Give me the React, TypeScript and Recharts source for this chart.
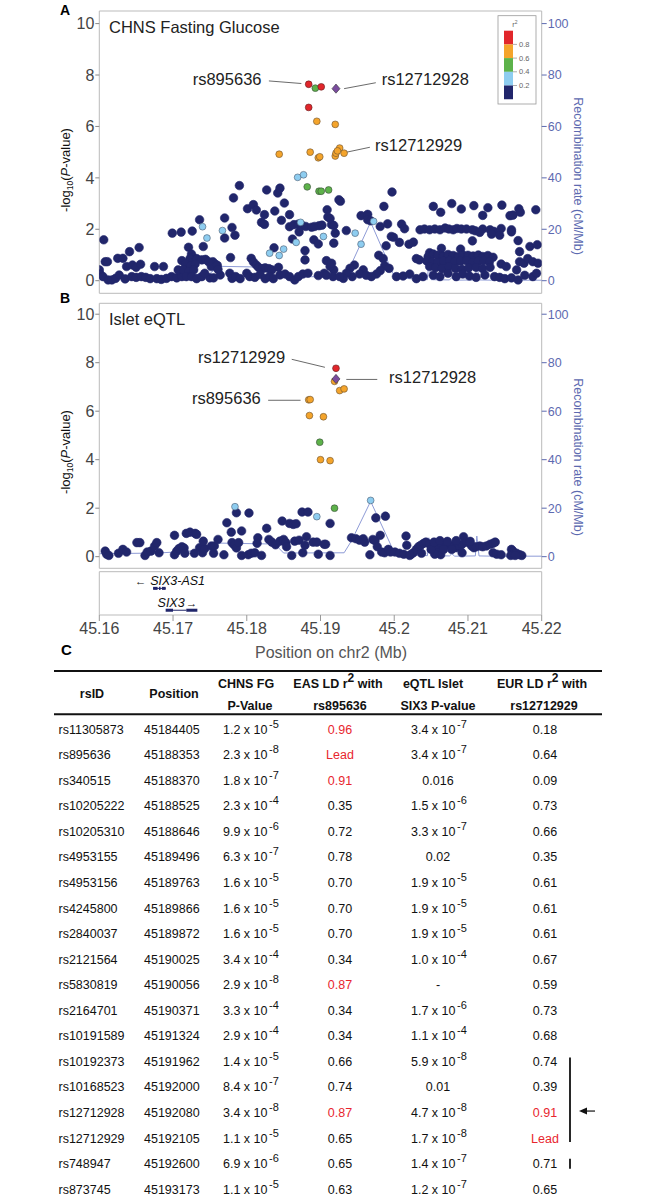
import React from 'react'
import {
	ComposedChart,
	Line,
	ReferenceArea,
	ReferenceLine,
	Scatter,
	XAxis,
	YAxis,
} from 'recharts'

type P = [number, number]

const X_TICKS = [45.16, 45.17, 45.18, 45.19, 45.2, 45.21, 45.22]
const P_TICKS = [0, 2, 4, 6, 8, 10]
const R_TICKS = [0, 20, 40, 60, 80, 100]

// recombination rate (cM/Mb) along chr2
const recomb: P[] = [
	[45.16, 1.2], [45.168, 1.5], [45.175, 2.8], [45.1762, 5.6], [45.1838, 5.2], [45.185, 1.5],
	[45.1932, 1.6], [45.1942, 6.5], [45.1968, 22.8], [45.2, 1.8], [45.202, 0.8], [45.2045, 0.4],
	[45.2047, 7.8], [45.205, 0.4], [45.2075, 0.3], [45.2078, 1.2], [45.2082, 0.2], [45.211, 0.3],
	[45.2112, 8.5], [45.2115, 0.3], [45.2135, 0.2], [45.22, 0.2],
]

// panel A: CHNS fasting glucose, -log10 P by LD bin
const fgNavy: P[] = [
	[45.1606, 1.59], [45.1608, 0.74], [45.1611, 0.74], [45.16, 0.42], [45.1601, 0.26], [45.1605, 0.16],
	[45.1612, 0.03], [45.1617, 0.03], [45.1622, 0.09], [45.1625, 0.87], [45.1632, 0.87], [45.1641, 1.13],
	[45.1654, 1.29], [45.1637, 0.55], [45.1645, 0.61], [45.165, 0.52], [45.1656, 0.64], [45.1627, 0.22],
	[45.1635, 0.07], [45.1644, 0.16], [45.165, 0.13], [45.1657, 0.16], [45.1663, 0.13], [45.1669, 0.08],
	[45.1675, 0.55], [45.1687, 0.55], [45.1678, 0.08], [45.1684, 0.05], [45.1691, 0.09], [45.1698, 0.16],
	[45.1705, 0.11], [45.1712, 0.16], [45.1699, 1.85], [45.1711, 1.89], [45.1726, 1.93], [45.1736, 2.37],
	[45.1741, 1.33], [45.1721, 1.3], [45.1725, 1.04], [45.1727, 0.91], [45.1723, 0.86], [45.1732, 0.86],
	[45.1739, 0.81], [45.1744, 0.83], [45.1712, 0.78], [45.1717, 0.65], [45.1724, 0.57], [45.173, 0.65],
	[45.1707, 0.42], [45.1714, 0.42], [45.1721, 0.35], [45.1728, 0.42], [45.1718, 0.16], [45.1725, 0.16],
	[45.1732, 0.08], [45.1739, 0.16], [45.175, 0.11], [45.1754, 0.74], [45.1757, 0.65], [45.1752, 0.55],
	[45.176, 0.6], [45.1764, 0.22], [45.177, 2.44], [45.177, 1.66], [45.178, 2.07], [45.1784, 1.77],
	[45.1778, 0.9], [45.1782, 3.22], [45.179, 3.7], [45.1801, 2.8], [45.1809, 2.96], [45.1813, 2.75],
	[45.182, 2.27], [45.1824, 2.19], [45.1824, 2.57], [45.1827, 3.53], [45.1838, 2.71], [45.1842, 3.41],
	[45.1845, 3.6], [45.1851, 3.02], [45.1847, 2.35], [45.1858, 2.57], [45.1858, 2.1], [45.1864, 2.18],
	[45.187, 2.2], [45.1875, 2.15], [45.188, 2.11], [45.1871, 1.9], [45.1862, 1.62], [45.1888, 2.08],
	[45.1892, 2.11], [45.1898, 2.14], [45.1902, 2.16], [45.1891, 1.59], [45.1897, 1.43], [45.1879, 1.17],
	[45.1879, 0.81], [45.1837, 1.28], [45.1806, 0.87], [45.1809, 0.73], [45.1813, 0.61], [45.1816, 0.52],
	[45.1821, 0.47], [45.1825, 0.5], [45.183, 0.47], [45.1834, 0.42], [45.1843, 0.52], [45.1777, 0.29],
	[45.178, 0.09], [45.1785, 0.16], [45.1791, 0.08], [45.18, 0.29], [45.1804, 0.16], [45.1811, 0.13],
	[45.1818, 0.24], [45.1825, 0.08], [45.1831, 0.16], [45.1836, 0.08], [45.1845, 0.22], [45.1852, 0.26],
	[45.1858, 0.16], [45.1865, 0.03], [45.187, 0.16], [45.1876, 0.26], [45.1883, 0.29], [45.1897, 0.2],
	[45.1905, 0.29], [45.1755, 0.11], [45.1743, 0.29], [45.1761, 0.44], [45.1748, 0.74],
	[45.1925, 3.15], [45.1927, 3.09], [45.1997, 3.45], [45.1986, 2.89], [45.1909, 2.76], [45.191, 2.48],
	[45.1913, 2.42], [45.1915, 2.18], [45.1918, 2.15], [45.192, 1.85], [45.1918, 1.46], [45.1935, 1.95],
	[45.1955, 2.53], [45.1964, 2.58], [45.1964, 2.37], [45.1968, 2.33], [45.1981, 2.11], [45.1991, 2.21],
	[45.1996, 1.72], [45.1999, 1.69], [45.2007, 1.49], [45.201, 2.2], [45.2014, 2.02], [45.1989, 1.36],
	[45.1979, 0.99], [45.1985, 0.86], [45.1987, 0.58], [45.1993, 0.48], [45.1981, 0.39], [45.1976, 0.26],
	[45.1958, 0.42], [45.1953, 0.26], [45.1962, 0.21], [45.1969, 0.16], [45.1946, 0.61], [45.194, 0.48],
	[45.1943, 0.16], [45.1935, 0.29], [45.1931, 0.09], [45.1918, 0.42], [45.1913, 0.55], [45.1908, 0.78],
	[45.1915, 0.68], [45.1908, 0.21], [45.1917, 0.16], [45.1926, 0.16], [45.2003, 0.16], [45.2012, 0.18],
	[45.2021, 0.26], [45.203, 0.08], [45.2039, 0.16], [45.202, 1.42], [45.2026, 1.5], [45.203, 0.86],
	[45.2034, 0.81], [45.2035, 1.98], [45.2041, 2.01], [45.2048, 1.98], [45.2055, 2.01], [45.2062, 1.98],
	[45.2069, 2.05], [45.2074, 2.01], [45.208, 1.98], [45.2085, 2.03], [45.2091, 2.01], [45.2098, 2.01],
	[45.2106, 1.98], [45.211, 1.94], [45.212, 2.01], [45.213, 1.98], [45.2135, 1.92], [45.2145, 2.03],
	[45.2159, 1.98], [45.2053, 2.89], [45.2063, 2.66], [45.2078, 3.0], [45.2091, 2.79], [45.2108, 2.92],
	[45.212, 2.54], [45.2127, 2.84], [45.2146, 2.94], [45.2157, 2.53], [45.2161, 2.55], [45.2169, 2.8],
	[45.2171, 2.66], [45.2192, 2.76], [45.2116, 1.88], [45.2132, 1.81], [45.2106, 1.55], [45.2143, 1.77],
	[45.2159, 1.9], [45.2168, 1.56], [45.2184, 1.33], [45.2194, 1.4], [45.217, 1.13], [45.209, 1.23],
	[45.2064, 1.26], [45.2048, 1.09], [45.2046, 0.94], [45.2053, 1.04], [45.2059, 0.99], [45.2066, 0.96],
	[45.2073, 1.02], [45.208, 0.98], [45.2087, 0.94], [45.2093, 1.0], [45.21, 0.99], [45.2107, 0.96],
	[45.2114, 1.0], [45.212, 0.94], [45.2127, 0.98], [45.2134, 0.91], [45.2044, 0.77], [45.2052, 0.73],
	[45.2059, 0.7], [45.2067, 0.76], [45.2075, 0.78], [45.2082, 0.73], [45.209, 0.76], [45.2098, 0.78],
	[45.2106, 0.7], [45.2114, 0.76], [45.2121, 0.78], [45.2129, 0.73], [45.2048, 0.55], [45.2056, 0.51],
	[45.2065, 0.47], [45.2074, 0.55], [45.2083, 0.48], [45.2092, 0.44], [45.2101, 0.5], [45.2111, 0.52],
	[45.212, 0.47], [45.213, 0.52], [45.2053, 0.21], [45.2062, 0.16], [45.2073, 0.29], [45.2084, 0.16],
	[45.2093, 0.26], [45.2102, 0.18], [45.2111, 0.13], [45.2123, 0.22], [45.2136, 0.16], [45.2143, 0.13],
	[45.215, 0.08], [45.2159, 0.11], [45.2168, 0.03], [45.2177, 0.21], [45.2188, 0.16], [45.217, 0.74],
	[45.2176, 0.68], [45.2181, 0.86], [45.2188, 0.74], [45.2195, 0.68], [45.2145, 0.65], [45.2152, 0.55],
	[45.2166, 0.42], [45.2193, 0.29],
]
const fgBlue: P[] = [
	[45.1869, 4.02], [45.1877, 4.12], [45.174, 2.1], [45.1746, 1.66], [45.1767, 1.95], [45.1873, 2.27],
	[45.1867, 1.49], [45.1904, 1.72], [45.185, 1.23], [45.1831, 1.07], [45.1844, 0.98], [45.1947, 1.85],
	[45.1955, 1.42], [45.1972, 2.31],
]
const fgGreen: P[] = [[45.1893, 7.49], [45.1882, 3.65], [45.1898, 3.48], [45.1901, 3.48], [45.1911, 3.53]]
const fgOrange: P[] = [
	[45.1844, 4.92], [45.1886, 5.0], [45.1895, 6.2], [45.1897, 4.78], [45.1899, 4.82], [45.192, 6.08],
	[45.192, 4.85], [45.1921, 4.96], [45.1926, 5.16], [45.1932, 4.96], [45.1923, 5.05],
]
const fgRed: P[] = [[45.1884, 7.64], [45.1901, 7.54], [45.1884, 6.74]]
const fgLead: P[] = [[45.1921, 7.47]]

// panel B: islet eQTL for SIX3
const eqNavy: P[] = [
	[45.1608, 0.23], [45.161, 0.1], [45.1613, 0.05], [45.1626, 0.14], [45.1632, 0.3], [45.1637, 0.19],
	[45.1651, 0.58], [45.1655, 0.58], [45.1662, 0.05], [45.1665, 0.19], [45.167, 0.23], [45.1675, 0.44],
	[45.1678, 0.58], [45.1681, 0.16], [45.1702, 0.88], [45.1702, 0.08], [45.1705, 0.23], [45.1708, 0.33],
	[45.1712, 0.41], [45.1715, 0.36], [45.1716, 0.14], [45.1718, 0.96], [45.1723, 1.01], [45.173, 0.96],
	[45.1732, 0.92], [45.1729, 0.14], [45.1736, 0.37], [45.174, 0.16], [45.1743, 0.33], [45.1741, 0.64],
	[45.1752, 0.44], [45.1756, 0.44], [45.1755, 0.14], [45.1761, 0.71], [45.1769, 0.08], [45.1773, 1.4],
	[45.1779, 1.01], [45.178, 0.58], [45.1783, 0.48], [45.1786, 0.36], [45.1789, 0.58], [45.1786, 1.81],
	[45.1793, 1.06], [45.1793, 0.05], [45.1803, 1.8], [45.1802, 0.08], [45.1806, 0.14], [45.1811, 0.16],
	[45.182, 0.05], [45.1815, 0.78], [45.1814, 0.55], [45.1827, 1.17], [45.183, 0.71], [45.1834, 0.6],
	[45.1839, 0.49], [45.1845, 0.64], [45.185, 0.71], [45.1853, 0.58], [45.1854, 0.41], [45.1848, 1.47],
	[45.1858, 1.37], [45.1863, 1.33], [45.1867, 1.36], [45.1861, 0.05], [45.1865, 0.64], [45.1871, 0.68],
	[45.1875, 1.84], [45.1883, 1.84], [45.1881, 0.82], [45.1879, 0.47], [45.1876, 0.16], [45.189, 0.6],
	[45.1895, 0.6], [45.1897, 0.1], [45.1905, 0.51],
	[45.1913, 1.37], [45.1907, 0.51], [45.1913, 0.05], [45.1942, 0.78], [45.1948, 0.74], [45.1953, 0.68],
	[45.1958, 0.74], [45.196, 0.6], [45.1971, 0.71], [45.1974, 0.66], [45.1975, 1.6], [45.1988, 1.67],
	[45.1981, 0.88], [45.1977, 0.41], [45.1983, 0.19], [45.1987, 0.16], [45.1992, 0.3], [45.1995, 0.19],
	[45.2001, 0.19], [45.1967, 0.08], [45.2007, 0.14], [45.2013, 0.1], [45.2016, 0.85], [45.2017, 0.47],
	[45.2023, 0.1], [45.2026, 0.16], [45.203, 0.3], [45.2033, 0.41], [45.2036, 0.47], [45.2037, 0.14],
	[45.204, 0.55], [45.2043, 0.6], [45.2048, 0.51], [45.2053, 0.47], [45.2057, 0.37], [45.2059, 0.16],
	[45.2063, 0.08], [45.2055, 0.1], [45.205, 0.3], [45.2064, 0.51], [45.207, 0.55], [45.2075, 0.47],
	[45.208, 0.44], [45.2084, 0.37], [45.2089, 0.44], [45.2092, 0.51], [45.2094, 0.82], [45.2098, 0.6],
	[45.2102, 0.58], [45.2105, 0.44], [45.2108, 0.37], [45.2111, 0.41], [45.2116, 0.44], [45.212, 0.41],
	[45.2125, 0.44], [45.213, 0.51], [45.2134, 0.55], [45.2137, 0.6], [45.2134, 0.16], [45.2139, 0.1],
	[45.2145, 0.08], [45.2092, 0.16], [45.2159, 0.3], [45.2161, 0.23], [45.2166, 0.14], [45.217, 0.08],
	[45.2173, 0.05], [45.2158, 0.05], [45.2164, 0.05], [45.2054, 0.6], [45.2062, 0.66], [45.2072, 0.63],
	[45.2084, 0.66], [45.2103, 0.63], [45.2021, 0.05], [45.2078, 0.3], [45.2067, 0.3],
]
const eqBlue: P[] = [[45.1784, 2.06], [45.1895, 1.65], [45.1968, 2.32]]
const eqGreen: P[] = [[45.1899, 4.72], [45.1919, 2.0]]
const eqOrange: P[] = [
	[45.1919, 7.23], [45.1926, 6.85], [45.1932, 6.92], [45.1884, 6.47], [45.1886, 6.48], [45.1885, 5.82],
	[45.1904, 5.77], [45.19, 4.0], [45.1913, 3.96],
]
const eqRed: P[] = [[45.1921, 7.77]]
const eqLead: P[] = [[45.1921, 7.33]]

// annotated SNPs: label anchor point and leader line, data units
const fgLabels = [
	{ x: 45.182, y: 7.84, t: 'rs895636', a: 'end' },
	{ x: 45.1983, y: 7.84, t: 'rs12712928', a: 'start' },
	{ x: 45.1974, y: 5.29, t: 'rs12712929', a: 'start' },
]
const fgLeaders: [P, P][] = [
	[[45.183, 7.77], [45.1874, 7.67]],
	[[45.1932, 7.47], [45.1975, 7.7]],
	[[45.1929, 4.96], [45.1967, 5.19]],
]
const eqLabels = [
	{ x: 45.1852, y: 8.24, t: 'rs12712929', a: 'end' },
	{ x: 45.1993, y: 7.41, t: 'rs12712928', a: 'start' },
	{ x: 45.1819, y: 6.53, t: 'rs895636', a: 'end' },
]
const eqLeaders: [P, P][] = [
	[[45.1861, 8.14], [45.1906, 7.81]],
	[[45.1935, 7.31], [45.1977, 7.31]],
	[[45.1829, 6.45], [45.1873, 6.45]],
]

// gene track (exons in Mb)
const six3As1Exons: P[] = [[45.1673, 45.1679], [45.1681, 45.1683], [45.1685, 45.169]]
const six3Exons: P[] = [[45.169, 45.17], [45.1718, 45.1733]]
const geneLabels = [
	{ x: 45.1656, y: 7.92, t: '←', a: 'middle' },
	{ x: 45.1669, y: 7.92, t: 'SIX3-AS1', a: 'start' },
	{ x: 45.1679, y: 2.84, t: 'SIX3', a: 'start' },
	{ x: 45.1725, y: 2.84, t: '→', a: 'middle' },
]

// table C
const rsIds = [
	'rs11305873', 'rs895636', 'rs340515', 'rs10205222', 'rs10205310', 'rs4953155', 'rs4953156', 'rs4245800',
	'rs2840037', 'rs2121564', 'rs5830819', 'rs2164701', 'rs10191589', 'rs10192373', 'rs10168523',
	'rs12712928', 'rs12712929', 'rs748947', 'rs873745',
]
const positions = [
	'45184405', '45188353', '45188370', '45188525', '45188646', '45189496', '45189763', '45189866',
	'45189872', '45190025', '45190056', '45190371', '45191324', '45191962', '45192000', '45192080',
	'45192105', '45192600', '45193173',
]
const fgP = [
	'1.2e-5', '2.3e-8', '1.8e-7', '2.3e-4', '9.9e-6', '6.3e-7', '1.6e-5', '1.6e-5', '1.6e-5', '3.4e-4',
	'2.9e-8', '3.3e-4', '2.9e-4', '1.4e-5', '8.4e-7', '3.4e-8', '1.1e-5', '6.9e-6', '1.1e-5',
]
const easLd = [
	'0.96', 'Lead', '0.91', '0.35', '0.72', '0.78', '0.70', '0.70', '0.70', '0.34', '0.87', '0.34', '0.34',
	'0.66', '0.74', '0.87', '0.65', '0.65', '0.63',
]
const easRed = [0, 1, 2, 10, 15]
const eqtlP = [
	'3.4e-7', '3.4e-7', '0.016', '1.5e-6', '3.3e-7', '0.02', '1.9e-5', '1.9e-5', '1.9e-5', '1.0e-4', '-',
	'1.7e-6', '1.1e-4', '5.9e-8', '0.01', '4.7e-8', '1.7e-8', '1.4e-7', '1.2e-7',
]
const eurLd = [
	'0.18', '0.64', '0.09', '0.73', '0.66', '0.35', '0.61', '0.61', '0.61', '0.67', '0.59', '0.73', '0.68',
	'0.74', '0.39', '0.91', 'Lead', '0.71', '0.65',
]
const eurRed = [15, 16]

const NAVY = '#21266b'
const BLUE = '#8ecdf0'
const GREEN = '#5db24a'
const ORANGE = '#f4a42b'
const RED = '#e1262b'
const PURPLE = '#7a4c9e'
const RECOMB = '#8e9bd6'
const AXIS_BLUE = '#5d6ab0'
const TXT_RED = '#e8262e'
const FONT = "'Liberation Sans', Arial, sans-serif"

const pts = (a: P[]) => a.map(([x, y]) => ({ x, y }))
const recombData = recomb.map(([x, r]) => ({ x, r }))

const dot = (fill: string, r: number, stroke: string) => (p: any) =>
	p.cx == null ? <g /> : <circle cx={p.cx} cy={p.cy} fill={fill} r={r} stroke={stroke} strokeWidth={0.6} />

const diamond = (p: any) =>
	p.cx == null ? (
		<g />
	) : (
		<polygon
			fill={PURPLE}
			points={`${p.cx},${p.cy - 4.6} ${p.cx + 4},${p.cy} ${p.cx},${p.cy + 4.6} ${p.cx - 4},${p.cy}`}
			stroke="#333"
			strokeWidth={0.6}
		/>
	)

const snpText = (p: any) => (
	<text dominantBaseline="central" fill="#222" fontSize={16.5} textAnchor={p.payload.a} x={p.cx} y={p.cy}>
		{p.payload.t}
	</text>
)

const geneText = (p: any) => {
	const arrow = p.payload.t.length === 1
	return (
		<text
			dominantBaseline="central"
			fill="#111"
			fontSize={arrow ? 11.5 : 12.5}
			fontStyle={arrow ? 'normal' : 'italic'}
			textAnchor={p.payload.a}
			x={p.cx}
			y={p.cy}
		>
			{p.payload.t}
		</text>
	)
}

interface PanelProps {
	top: number
	height: number
	mTop: number
	mBottom: number
	yMin: number
	yMax: number
	navy: P[]
	blue: P[]
	green: P[]
	orange: P[]
	red: P[]
	lead: P[]
	labels: { x: number; y: number; t: string; a: string }[]
	leaders: [P, P][]
}

const LocusPanel = ({ top, height, mTop, mBottom, yMin, yMax, navy, blue, green, orange, red, lead, labels, leaders }: PanelProps) => {
	return (
		<div style={{ position: 'absolute', left: 0, top }}>
			<ComposedChart height={height} margin={{ top: mTop, right: 0, bottom: mBottom, left: 0 }} width={654}>
				<XAxis allowDataOverflow dataKey="x" domain={[45.16, 45.22]} hide type="number" />
				<YAxis
					allowDataOverflow
					axisLine={false}
					dataKey="y"
					domain={[yMin, yMax]}
					interval={0}
					tick={{ fill: '#444', fontSize: 16 }}
					tickLine={{ stroke: '#888' }}
					tickMargin={1}
					tickSize={4}
					ticks={P_TICKS}
					type="number"
					width={99.3}
					yAxisId="l"
				/>
				<YAxis
					allowDataOverflow
					axisLine={false}
					domain={[yMin * 10, yMax * 10]}
					interval={0}
					orientation="right"
					tick={{ fill: AXIS_BLUE, fontSize: 12.5 }}
					tickLine={{ stroke: AXIS_BLUE }}
					tickMargin={1}
					tickSize={5}
					ticks={R_TICKS}
					type="number"
					width={112.3}
					yAxisId="r"
				/>
				<ReferenceArea
					fill="none"
					ifOverflow="visible"
					stroke="#bbbbbb"
					x1={45.16}
					x2={45.22}
					y1={yMin}
					y2={yMax}
					yAxisId="l"
				/>
				<Line
					data={recombData}
					dataKey="r"
					dot={false}
					isAnimationActive={false}
					stroke={RECOMB}
					strokeWidth={1}
					type="linear"
					yAxisId="r"
				/>
				<Scatter data={pts(navy)} isAnimationActive={false} shape={dot(NAVY, 4.3, NAVY)} yAxisId="l" />
				<Scatter data={pts(blue)} isAnimationActive={false} shape={dot(BLUE, 3.4, '#4a5a70')} yAxisId="l" />
				<Scatter data={pts(green)} isAnimationActive={false} shape={dot(GREEN, 3.4, '#3a4a3a')} yAxisId="l" />
				<Scatter data={pts(orange)} isAnimationActive={false} shape={dot(ORANGE, 3.4, '#6a5030')} yAxisId="l" />
				<Scatter data={pts(red)} isAnimationActive={false} shape={dot(RED, 3.4, '#602020')} yAxisId="l" />
				<Scatter data={pts(lead)} isAnimationActive={false} shape={diamond} yAxisId="l" />
				{leaders.map(([a, b], i) => (
					<ReferenceLine
						key={i}
						segment={[
							{ x: a[0], y: a[1] },
							{ x: b[0], y: b[1] },
						]}
						stroke="#444"
						strokeWidth={0.8}
						yAxisId="l"
					/>
				))}
				<Scatter data={labels} isAnimationActive={false} shape={snpText} yAxisId="l" />
			</ComposedChart>
		</div>
	)
}

const GeneTrack = () => {
	return (
		<div style={{ position: 'absolute', left: 0, top: 560 }}>
			<ComposedChart height={100} margin={{ top: 11.7, right: 112.3, bottom: 0, left: 99.3 }} width={654}>
				<XAxis
					allowDataOverflow
					axisLine={false}
					dataKey="x"
					domain={[45.16, 45.22]}
					height={45}
					interval={0}
					tick={{ fill: '#444', fontSize: 16 }}
					tickLine={{ stroke: '#999' }}
					tickMargin={2}
					tickSize={6}
					ticks={X_TICKS}
					type="number"
				/>
				<YAxis allowDataOverflow dataKey="y" domain={[0, 10]} hide type="number" />
				<ReferenceArea fill="none" ifOverflow="visible" stroke="#bbbbbb" x1={45.16} x2={45.22} y1={0} y2={10} />
				<ReferenceLine
					segment={[
						{ x: six3As1Exons[0][0], y: 6.15 },
						{ x: six3As1Exons[2][1], y: 6.15 },
					]}
					stroke={NAVY}
					strokeWidth={1}
				/>
				<ReferenceLine
					segment={[
						{ x: six3Exons[0][1], y: 1.1 },
						{ x: six3Exons[1][0], y: 1.1 },
					]}
					stroke={NAVY}
					strokeWidth={1}
				/>
				{six3As1Exons.map(([a, b], i) => (
					<ReferenceArea fill={NAVY} fillOpacity={1} key={`a${i}`} x1={a} x2={b} y1={5.8} y2={6.5} />
				))}
				{six3Exons.map(([a, b], i) => (
					<ReferenceArea fill={NAVY} fillOpacity={1} key={`s${i}`} x1={a} x2={b} y1={0.75} y2={1.45} />
				))}
				<Scatter data={geneLabels} isAnimationActive={false} shape={geneText} />
			</ComposedChart>
		</div>
	)
}

const Sci = ({ v, x, y, anchor }: { v: string; x: number; y: number; anchor: 'start' | 'middle' }) => {
	if (!v.includes('e')) {
		return (
			<text textAnchor="middle" x={anchor === 'middle' ? x : x + 27} y={y}>
				{v}
			</text>
		)
	}
	const [m, e] = v.split('e')
	return (
		<text x={x} y={y}>
			{m} x 10
			<tspan dx={1.5} dy={-6} fontSize={11}>
				{e}
			</tspan>
		</text>
	)
}

const LD_COLORS = [RED, ORANGE, GREEN, BLUE, NAVY]
const LD_LABELS = ['0.8', '0.6', '0.4', '0.2']

const Overlay = () => {
	const rowY = (i: number) => 729.3 + i * 25.55
	return (
		<svg
			fontFamily={FONT}
			height={1199}
			style={{ position: 'absolute', left: 0, top: 0, pointerEvents: 'none' }}
			width={654}
		>
			<text fontSize={14} fontWeight="bold" x={60} y={15}>
				A
			</text>
			<text fontSize={14} fontWeight="bold" x={60} y={303}>
				B
			</text>
			<text fontSize={15} fontWeight="bold" x={61} y={655}>
				C
			</text>
			<text fill="#222" fontSize={16.5} x={109} y={32.6}>
				CHNS Fasting Glucose
			</text>
			<text fill="#222" fontSize={16.5} x={109} y={325}>
				Islet eQTL
			</text>
			{[170, 452].map((cy) => (
				<text fill="#111" fontSize={13} key={cy} textAnchor="middle" transform={`translate(70,${cy}) rotate(-90)`}>
					-log
					<tspan dy={3} fontSize={8.5}>
						10
					</tspan>
					<tspan dy={-3}>(</tspan>
					<tspan fontStyle="italic">P</tspan>
					-value)
				</text>
			))}
			{[176, 457].map((cy) => (
				<text
					fill={AXIS_BLUE}
					fontSize={12.5}
					key={cy}
					textAnchor="middle"
					transform={`translate(574,${cy}) rotate(90)`}
				>
					Recombination rate (cM/Mb)
				</text>
			))}
			{/* r2 key */}
			<rect fill="#fff" height={88.3} stroke="#999" strokeWidth={0.8} width={38} x={498} y={15.7} />
			<text fill="#666" fontSize={7.5} textAnchor="middle" x={515} y={27}>
				r
				<tspan dy={-3} fontSize={5}>
					2
				</tspan>
			</text>
			{LD_COLORS.map((c, i) => (
				<rect fill={c} height={13.75} key={c} width={9} x={504} y={30.7 + i * 13.7} />
			))}
			{LD_LABELS.map((l, i) => (
				<g key={l}>
					<line stroke="#777" strokeWidth={0.6} x1={513} x2={517} y1={44.4 + i * 13.7} y2={44.4 + i * 13.7} />
					<text fill="#666" fontSize={7.5} x={519} y={47 + i * 13.7}>
						{l}
					</text>
				</g>
			))}
			<text fill="#555" fontSize={16} textAnchor="middle" x={331} y={657.8}>
				Position on chr2 (Mb)
			</text>

			{/* table */}
			<line stroke="#111" strokeWidth={2} x1={54} x2={602} y1={671} y2={671} />
			<line stroke="#111" strokeWidth={2} x1={54} x2={602} y1={714.3} y2={714.3} />
			<g fill="#111" fontSize={12.5} fontWeight="bold" textAnchor="middle">
				<text x={92} y={697.5}>
					rsID
				</text>
				<text x={174} y={697.5}>
					Position
				</text>
				<text x={246} y={687.5}>
					CHNS FG
				</text>
				<text x={250} y={709.5}>
					P-Value
				</text>
				<text x={338} y={687.5}>
					EAS LD r
					<tspan dy={-6} fontSize={12}>
						2
					</tspan>
					<tspan dy={6}> with</tspan>
				</text>
				<text x={340} y={709.5}>
					rs895636
				</text>
				<text x={433} y={687.5}>
					eQTL Islet
				</text>
				<text x={438} y={709.5}>
					SIX3 P-value
				</text>
				<text x={542} y={687.5}>
					EUR LD r
					<tspan dy={-6} fontSize={12}>
						2
					</tspan>
					<tspan dy={6}> with</tspan>
				</text>
				<text x={544} y={709.5}>
					rs12712929
				</text>
			</g>
			<g fill="#111" fontSize={12.5}>
				{rsIds.map((id, i) => {
					const y = rowY(i) + 4.4
					return (
						<g key={id}>
							<text x={58.5} y={y}>
								{id}
							</text>
							<text x={144} y={y}>
								{positions[i]}
							</text>
							<Sci anchor="start" v={fgP[i]} x={223} y={y} />
							<text fill={easRed.includes(i) ? TXT_RED : '#111'} textAnchor="middle" x={340} y={y}>
								{easLd[i]}
							</text>
							<Sci anchor="start" v={eqtlP[i]} x={411} y={y} />
							<text fill={eurRed.includes(i) ? TXT_RED : '#111'} textAnchor="middle" x={545} y={y}>
								{eurLd[i]}
							</text>
						</g>
					)
				})}
			</g>
			<line stroke="#111" strokeWidth={1.8} x1={570} x2={570} y1={rowY(13) - 4} y2={rowY(16) + 4} />
			<line stroke="#111" strokeWidth={1.8} x1={570} x2={570} y1={rowY(17) - 5} y2={rowY(17) + 5} />
			<line stroke="#111" strokeWidth={1.2} x1={584} x2={595} y1={rowY(15) - 1.5} y2={rowY(15) - 1.5} />
			<polygon
				fill="#111"
				points={`579,${rowY(15) - 1.5} 587,${rowY(15) - 5} 587,${rowY(15) + 2}`}
			/>
		</svg>
	)
}

export default function App() {
	return (
		<div style={{ position: 'relative', width: 654, height: 1199, background: '#fff', fontFamily: FONT }}>
			<style>{'body{margin:0}'}</style>
			<LocusPanel
				blue={fgBlue}
				green={fgGreen}
				height={300}
				labels={fgLabels}
				lead={fgLead}
				leaders={fgLeaders}
				mBottom={6.7}
				mTop={11}
				navy={fgNavy}
				orange={fgOrange}
				red={fgRed}
				top={0}
				yMax={10.49}
				yMin={-0.49}
			/>
			<LocusPanel
				blue={eqBlue}
				green={eqGreen}
				height={290}
				labels={eqLabels}
				lead={eqLead}
				leaders={eqLeaders}
				mBottom={11.7}
				mTop={13.3}
				navy={eqNavy}
				orange={eqOrange}
				red={eqRed}
				top={290}
				yMax={10.45}
				yMin={-0.48}
			/>
			<GeneTrack />
			<Overlay />
		</div>
	)
}
